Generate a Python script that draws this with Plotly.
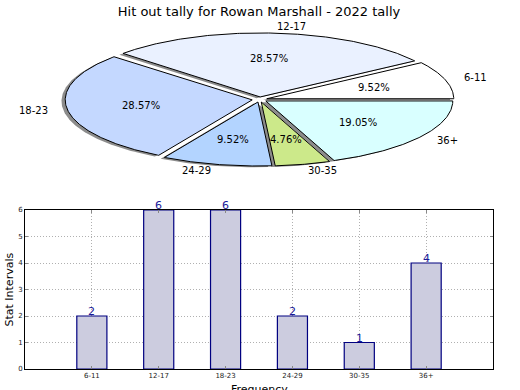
import numpy as np
import plotly.graph_objects as go

# ---------------- data ----------------
title_text = "Hit out tally for Rowan Marshall - 2022 tally"
categories = ["6-11", "12-17", "18-23", "24-29", "30-35", "36+"]
counts = [2, 6, 6, 2, 1, 4]
pie_colors = ["#ffffff", "#eaf1ff", "#c4d8ff", "#b3d4ff", "#cce98a", "#d9ffff"]
y_ticks = [0, 1, 2, 3, 4, 5, 6]

# ---------------- layout constants ----------------
W, H = 520, 390
ML, MR, MT, MB = 25, 27, 0, 21
PLOT_W = W - ML - MR          # 468
PLOT_H = H - MT - MB          # 369
BAR_TOP_PX = 210
PIE_BOTTOM_PX = 205
FONT = "DejaVu Sans"

# pie geometry (pixel units on hidden axes)
cx, cy = 259.6, 99.5
rx, ry = 187.0, 64.0
explode = 0.04
shadow_dx, shadow_dy = -0.02, -0.02

fig = go.Figure()

total = float(sum(counts))
theta = 0.0
wedges = []
for cat, v, col in zip(categories, counts, pie_colors):
    t1 = theta
    t2 = theta + 360.0 * v / total
    theta = t2
    m = np.deg2rad((t1 + t2) / 2)
    ex, ey = explode * np.cos(m), explode * np.sin(m)
    ang = np.deg2rad(np.linspace(t1, t2, int((t2 - t1) * 2) + 3))
    X = np.concatenate([[ex], ex + np.cos(ang), [ex]])
    Y = np.concatenate([[ey], ey + np.sin(ang), [ey]])
    wedges.append((cat, v, col, m, ex, ey, X, Y))

def to_px(X, Y):
    return cx + rx * np.asarray(X), cy - ry * np.asarray(Y)

# shadows
for cat, v, col, m, ex, ey, X, Y in wedges:
    px, py = to_px(X + shadow_dx, Y + shadow_dy)
    fig.add_trace(go.Scatter(x=px, y=py, mode="lines", fill="toself",
                             fillcolor="rgba(0,0,0,0.45)",
                             line=dict(color="rgba(0,0,0,0)", width=0),
                             xaxis="x2", yaxis="y2", hoverinfo="skip",
                             showlegend=False))
# wedges
for cat, v, col, m, ex, ey, X, Y in wedges:
    px, py = to_px(X, Y)
    fig.add_trace(go.Scatter(x=px, y=py, mode="lines", fill="toself",
                             fillcolor=col,
                             line=dict(color="black", width=1),
                             xaxis="x2", yaxis="y2", hoverinfo="skip",
                             showlegend=False))

annotations = []
for cat, v, col, m, ex, ey, X, Y in wedges:
    # outer label
    lx = ex + 1.1 * np.cos(m)
    ly = ey + 1.1 * np.sin(m)
    px, py = to_px(lx, ly)
    annotations.append(dict(x=float(px), y=float(py), xref="x2", yref="y2",
                            text=cat, showarrow=False,
                            xanchor="left" if lx > 0 else "right",
                            xshift=-1 if lx > 0 else 1,
                            yanchor="middle",
                            font=dict(family=FONT, size=10, color="black")))
    # percentage label
    qx = ex + 0.6 * np.cos(m)
    qy = ey + 0.6 * np.sin(m)
    px, py = to_px(qx, qy)
    annotations.append(dict(x=float(px), y=float(py), xref="x2", yref="y2",
                            text="%.2f%%" % (100.0 * v / total), showarrow=False,
                            xanchor="center", yanchor="middle",
                            font=dict(family=FONT, size=10, color="black")))

# bar chart
fig.add_trace(go.Bar(x=categories, y=counts, width=0.45,
                     marker=dict(color="#ccccdf",
                                 line=dict(color="#000080", width=1.2)),
                     xaxis="x", yaxis="y", hoverinfo="skip", showlegend=False))

for cat, v in zip(categories, counts):
    annotations.append(dict(x=cat, y=v, xref="x", yref="y", text=str(v),
                            showarrow=False, xanchor="center", yanchor="bottom",
                            yshift=-4,
                            font=dict(family=FONT, size=11, color="#1a1a99")))

# axis titles
annotations.append(dict(x=(9 - ML) / PLOT_W,
                        y=1 - ((BAR_TOP_PX + PLOT_H) / 2.0) / PLOT_H,
                        xref="paper", yref="paper",
                        text="Stat Intervals", showarrow=False, textangle=-90,
                        xanchor="center", yanchor="middle",
                        font=dict(family=FONT, size=11, color="black")))
annotations.append(dict(x=0.5, y=-(389 - PLOT_H) / PLOT_H, xref="paper", yref="paper",
                        text="Frequency", showarrow=False,
                        xanchor="center", yanchor="middle",
                        font=dict(family=FONT, size=11, color="black")))

bar_dom_top = (PLOT_H - BAR_TOP_PX) / PLOT_H
pie_dom_bot = (PLOT_H - PIE_BOTTOM_PX) / PLOT_H

grid = dict(showgrid=True, gridcolor="#b0b0b0", griddash="1px,2px", gridwidth=1)

fig.update_layout(
    width=W, height=H,
    margin=dict(l=ML, r=MR, t=MT, b=MB, autoexpand=False),
    paper_bgcolor="white", plot_bgcolor="white",
    showlegend=False,
    title=dict(text=title_text, x=0.5, xref="paper", xanchor="center",
               y=1 - 11.0 / H, yref="container", yanchor="middle",
               font=dict(family=FONT, size=13, color="black")),
    xaxis=dict(domain=[0, 1], anchor="y", type="category", range=[-1, 6],
               showline=True, linecolor="black", linewidth=1, mirror="ticks",
               ticks="inside", ticklen=3, tickcolor="#888888",
               tickfont=dict(family=FONT, size=7, color="#222222"),
               layer="above traces", zeroline=False, fixedrange=True,
               automargin=False, **grid),
    yaxis=dict(domain=[0, bar_dom_top], anchor="x", range=[0, 6],
               tickvals=y_ticks,
               showline=True, linecolor="black", linewidth=1, mirror="ticks",
               ticks="inside", ticklen=3, tickcolor="#888888",
               tickfont=dict(family=FONT, size=7, color="#222222"),
               layer="above traces", zeroline=False, fixedrange=True,
               automargin=False, **grid),
    xaxis2=dict(domain=[0, 1], anchor="y2", range=[ML, W - MR], visible=False,
                fixedrange=True),
    yaxis2=dict(domain=[pie_dom_bot, 1], anchor="x2", range=[PIE_BOTTOM_PX, 0],
                visible=False, fixedrange=True),
    annotations=annotations,
)

fig.write_html("out.html",
               config={"displayModeBar": False, "staticPlot": True},
               post_script="document.body.style.margin='0';"
                           "document.body.style.overflow='hidden';")
